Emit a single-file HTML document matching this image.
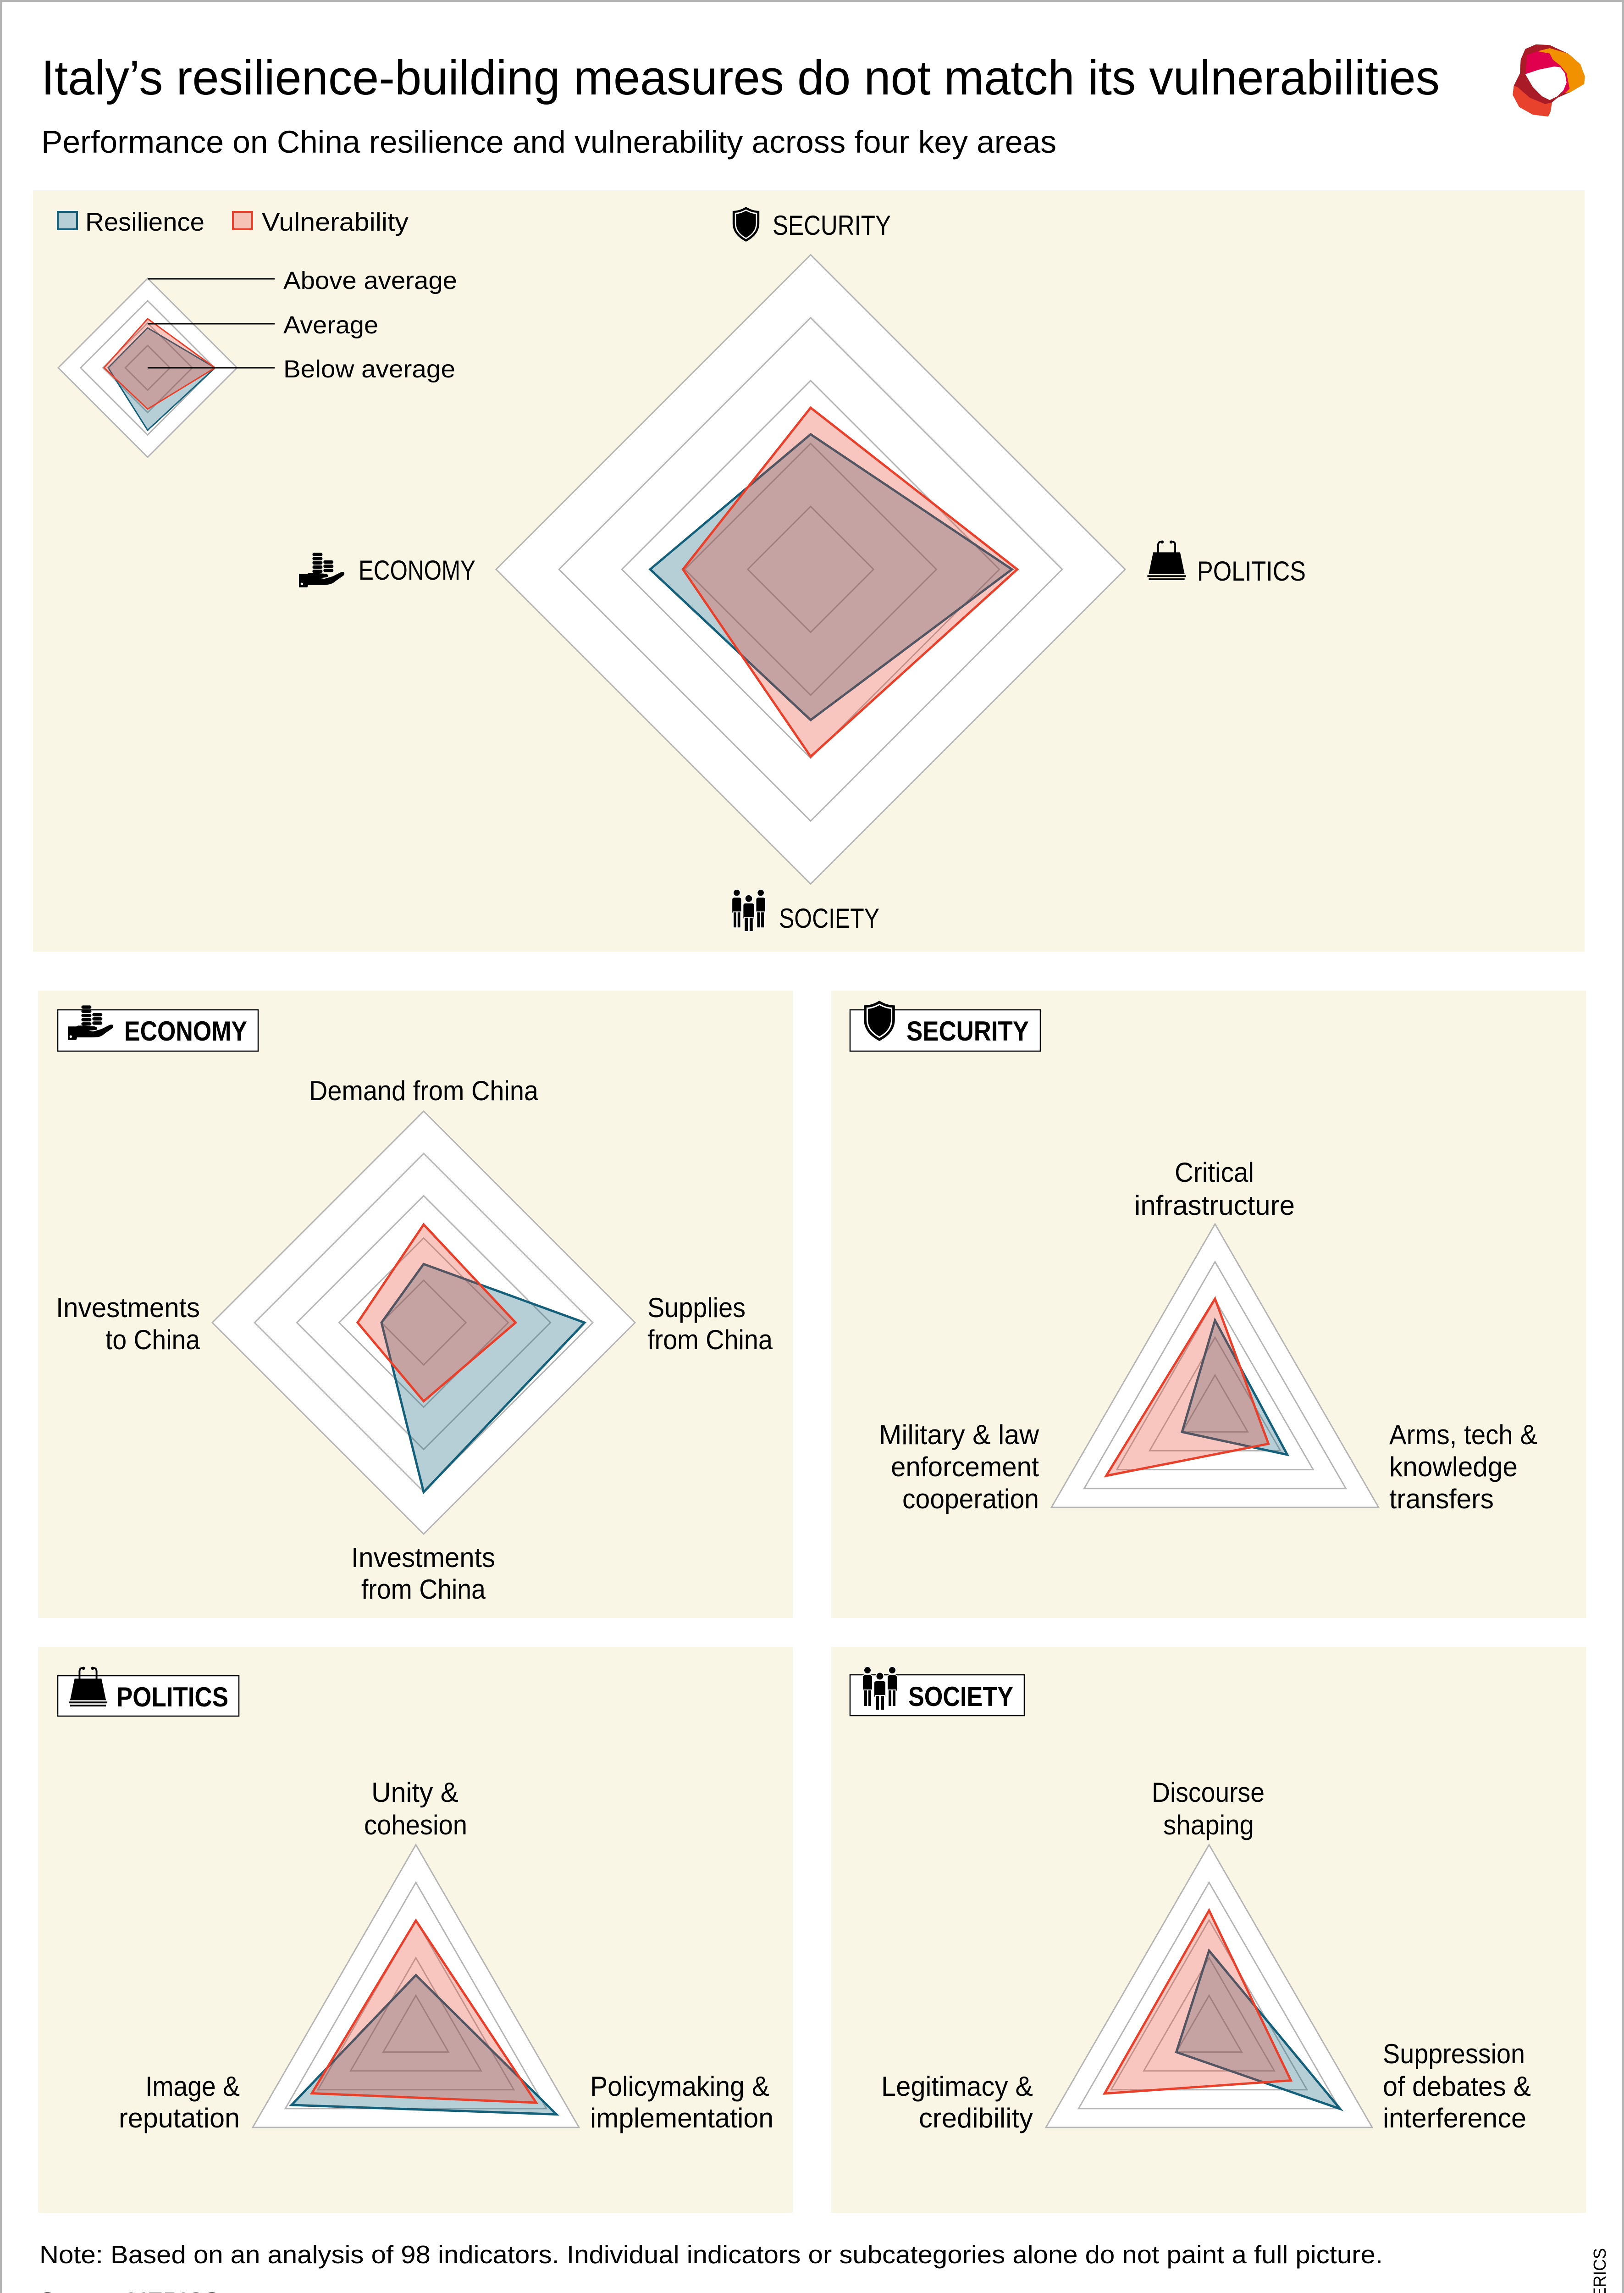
<!DOCTYPE html>
<html>
<head>
<meta charset="utf-8">
<style>
html,body{margin:0;padding:0;background:#fff;width:3542px;height:5123px;overflow:hidden;}
svg{display:block;}
text{font-family:"Liberation Sans",sans-serif;fill:#000;}
</style>
</head>
<body>
<svg width="3542" height="5123" viewBox="0 0 3542 5123" xmlns="http://www.w3.org/2000/svg" overflow="hidden">
<defs>
  <symbol id="shield" viewBox="0 0 70 86">
    <path d="M35 0 C48 8 58 10 68 10 L68 40 C68 62 54 76 35 86 C16 76 2 62 2 40 L2 10 C12 10 22 8 35 0 Z" fill="#000"/>
    <path d="M35 8 C46 14 54 16 61 16 L61 40 C61 58 51 69 35 78 C19 69 9 58 9 40 L9 16 C16 16 24 14 35 8 Z" fill="#000" stroke="#fff" stroke-width="3"/>
  </symbol>
  <symbol id="bag" viewBox="0 0 86 92">
    <path d="M24 32 L24 12 Q24 4 32 4 M62 32 L62 12 Q62 4 54 4" fill="none" stroke="#000" stroke-width="4"/>
    <circle cx="33" cy="5" r="3.5" fill="#000"/>
    <circle cx="53" cy="5" r="3.5" fill="#000"/>
    <polygon points="13,28 73,28 83,76 3,76" fill="#000"/>
    <rect x="0" y="79" width="86" height="4" fill="#000"/>
    <rect x="3" y="86" width="80" height="4" fill="#000"/>
  </symbol>
  <symbol id="econ" viewBox="0 0 110 82">
    <g fill="#000">
      <rect x="32" y="0" width="24" height="8" rx="4"/>
      <rect x="32" y="10" width="24" height="8" rx="4"/>
      <rect x="32" y="20" width="24" height="8" rx="4"/>
      <rect x="32" y="30" width="24" height="8" rx="4"/>
      <rect x="32" y="40" width="24" height="8" rx="4"/>
      <rect x="58" y="18" width="24" height="8" rx="4"/>
      <rect x="58" y="28" width="24" height="8" rx="4"/>
      <rect x="58" y="38" width="24" height="8" rx="4"/>
      <path d="M0 50 L20 50 L24 48 L40 48 L64 50 Q72 52 68 58 L50 60 L60 62 L80 56 L100 46 Q112 44 106 54 L86 68 Q78 76 62 76 L22 76 L20 82 L0 82 Z"/>
    </g>
    <circle cx="7" cy="74" r="3" fill="#fff"/>
  </symbol>
  <symbol id="people" viewBox="0 0 80 96">
    <g fill="#000" stroke="#fff" stroke-width="2">
      <circle cx="13" cy="9" r="8"/>
      <circle cx="67" cy="9" r="8"/>
      <rect x="2" y="19" width="22" height="38" rx="5"/>
      <rect x="56" y="19" width="22" height="38" rx="5"/>
      <rect x="5" y="52" width="8" height="36"/>
      <rect x="14" y="52" width="8" height="36"/>
      <rect x="58" y="52" width="8" height="36"/>
      <rect x="67" y="52" width="8" height="36"/>
      <circle cx="40" cy="22" r="8.5"/>
      <rect x="27" y="32" width="26" height="38" rx="5"/>
      <rect x="30" y="64" width="9" height="32"/>
      <rect x="41" y="64" width="9" height="32"/>
    </g>
  </symbol>
</defs>

<!-- frame -->
<rect x="0" y="0" width="3542" height="5123" fill="#fff"/>
<rect x="2" y="2" width="3538" height="5119" fill="none" stroke="#b3b3b3" stroke-width="5"/>

<!-- title -->
<text x="90" y="206" font-size="107" textLength="3050" lengthAdjust="spacingAndGlyphs">Italy’s resilience-building measures do not match its vulnerabilities</text>
<text x="90" y="333" font-size="69" textLength="2214" lengthAdjust="spacingAndGlyphs">Performance on China resilience and vulnerability across four key areas</text>

<!-- logo -->
<g>
  <polygon points="3350,96.7 3380,98.3 3420,116.7 3446.7,140 3456.7,166.7 3455,183.3 3426.7,200 3396.7,213.3 3385,223.3 3381.7,243.3 3376.7,254 3343.3,250 3313.3,233.3 3299.3,206.7 3301.7,186.7 3315,160 3316.7,130 3326.7,106.7" fill="#a81b27"/>
  <polygon points="3353.3,111.7 3380,105 3420,116.7 3446.7,140 3456.7,166.7 3455,183.3 3426.7,200 3413.3,203.3 3420,190 3416.7,160 3403.3,143.3 3386.7,130 3380,116.7" fill="#f29100"/>
  <polygon points="3330,120 3353.3,111.7 3380,116.7 3386.7,130 3403.3,143.3 3416.7,160 3423.3,193.3 3413.3,203.3 3326.7,161.7" fill="#e0004d"/>
  <polygon points="3299.3,206.7 3313.3,233.3 3343.3,250 3376.7,254 3381.7,243.3 3385,223.3 3370,226.7 3336.7,213.3 3310,190 3301.7,186.7" fill="#e8412c"/>
  <polygon points="3326.7,161.7 3356.7,151.7 3390,145 3403.3,146.7 3413.3,160 3416.7,180 3410,196.7 3396.7,210 3380,218.3 3363.3,210 3343.3,190" fill="#fff"/>
</g>

<!-- panels -->
<rect x="72" y="415" width="3384" height="1660" fill="#f9f6e5"/>
<rect x="83" y="2160" width="1646" height="1368" fill="#f9f6e5"/>
<rect x="1813" y="2160" width="1646" height="1368" fill="#f9f6e5"/>
<rect x="83" y="3591" width="1646" height="1234" fill="#f9f6e5"/>
<rect x="1813" y="3591" width="1646" height="1234" fill="#f9f6e5"/>

<!-- legend -->
<rect x="126" y="462" width="42" height="38" fill="#b6cfd6" stroke="#14607a" stroke-width="4"/>
<text x="186" y="503" font-size="56" textLength="260" lengthAdjust="spacingAndGlyphs">Resilience</text>
<rect x="508" y="462" width="42" height="38" fill="#f6c2b6" stroke="#e8402a" stroke-width="4"/>
<text x="571" y="503" font-size="56" textLength="320" lengthAdjust="spacingAndGlyphs">Vulnerability</text>

<g stroke-linejoin="miter">
  <polygon points="322,607 517,802 322,997 127,802" fill="#fff" stroke="#b5b5b5" stroke-width="3"/>
  <polygon points="322,655.75 468.25,802 322,948.25 175.75,802" fill="none" stroke="#b5b5b5" stroke-width="3"/>
  <polygon points="322,704.5 419.5,802 322,899.5 224.5,802" fill="none" stroke="#b5b5b5" stroke-width="3"/>
  <polygon points="322,753.25 370.75,802 322,850.75 273.25,802" fill="none" stroke="#b5b5b5" stroke-width="3"/>
  <polygon points="322,715 469,802 322,938 236,802" fill="#14607a" fill-opacity="0.31" stroke="#14607a" stroke-width="3"/>
  <polygon points="322,695 469,802 322,892 227,802" fill="#e8402a" fill-opacity="0.3" stroke="#e8402a" stroke-width="3"/>
</g>
<g stroke="#000" stroke-width="3">
  <line x1="322" y1="608" x2="599" y2="608"/>
  <line x1="322" y1="706" x2="599" y2="706"/>
  <line x1="322" y1="802" x2="599" y2="802"/>
</g>
<text x="618" y="630" font-size="54" textLength="379" lengthAdjust="spacingAndGlyphs">Above average</text>
<text x="618" y="727" font-size="54" textLength="207" lengthAdjust="spacingAndGlyphs">Average</text>
<text x="618" y="823" font-size="54" textLength="375" lengthAdjust="spacingAndGlyphs">Below average</text>

<!-- main radar -->
<g stroke-linejoin="miter">
  <polygon points="1768,555.5 2454,1241.5 1768,1927.5 1082,1241.5" fill="#fff" stroke="#b5b5b5" stroke-width="3"/>
  <polygon points="1768,692.7 2316.8,1241.5 1768,1790.3 1219.2,1241.5" fill="none" stroke="#b5b5b5" stroke-width="3"/>
  <polygon points="1768,829.9 2179.6,1241.5 1768,1653.1 1356.4,1241.5" fill="none" stroke="#b5b5b5" stroke-width="3"/>
  <polygon points="1768,967.1 2042.4,1241.5 1768,1515.9 1493.6,1241.5" fill="none" stroke="#b5b5b5" stroke-width="3"/>
  <polygon points="1768,1104.3 1905.2,1241.5 1768,1378.7 1630.8,1241.5" fill="none" stroke="#b5b5b5" stroke-width="3"/>
  <polygon points="1768,947 2207,1241.5 1768,1570 1418,1241.5" fill="#14607a" fill-opacity="0.31" stroke="#14607a" stroke-width="5"/>
  <polygon points="1768,889 2218.7,1241.5 1768,1649.7 1489.5,1241.5" fill="#e8402a" fill-opacity="0.3" stroke="#e8402a" stroke-width="5"/>
</g>
<use href="#shield" x="1594" y="451" width="66" height="76"/>
<text x="1685" y="512" font-size="60" textLength="258" lengthAdjust="spacingAndGlyphs">SECURITY</text>
<use href="#bag" x="2502" y="1177" width="85" height="90"/>
<text x="2611" y="1266" font-size="60" textLength="237" lengthAdjust="spacingAndGlyphs">POLITICS</text>
<use href="#people" x="1594" y="1938" width="78" height="93"/>
<text x="1699" y="2023" font-size="60" textLength="219" lengthAdjust="spacingAndGlyphs">SOCIETY</text>
<use href="#econ" x="652" y="1204" width="101" height="78"/>
<text x="782" y="1264" font-size="60" textLength="255" lengthAdjust="spacingAndGlyphs">ECONOMY</text>

<!-- ECONOMY panel -->
<rect x="126" y="2202" width="437" height="90" fill="#fff" stroke="#000" stroke-width="2.5"/>
<use href="#econ" x="148" y="2191" width="101" height="78"/>
<text x="271" y="2269" font-size="60" font-weight="bold" textLength="268" lengthAdjust="spacingAndGlyphs">ECONOMY</text>
<g stroke-linejoin="miter">
  <polygon points="924,2423 1385,2884 924,3345 463,2884" fill="#fff" stroke="#b5b5b5" stroke-width="3"/>
  <polygon points="924,2515.2 1292.8,2884 924,3252.8 555.2,2884" fill="none" stroke="#b5b5b5" stroke-width="3"/>
  <polygon points="924,2607.4 1200.6,2884 924,3160.6 647.4,2884" fill="none" stroke="#b5b5b5" stroke-width="3"/>
  <polygon points="924,2699.6 1108.4,2884 924,3068.4 739.6,2884" fill="none" stroke="#b5b5b5" stroke-width="3"/>
  <polygon points="924,2791.8 1016.2,2884 924,2976.2 831.8,2884" fill="none" stroke="#b5b5b5" stroke-width="3"/>
  <polygon points="924,2756.3 1275,2884 924,3253.6 832,2884" fill="#14607a" fill-opacity="0.31" stroke="#14607a" stroke-width="5"/>
  <polygon points="924,2670 1124.5,2884 924,3055.5 780,2884" fill="#e8402a" fill-opacity="0.3" stroke="#e8402a" stroke-width="5"/>
</g>
<text x="674" y="2399" font-size="60" textLength="500" lengthAdjust="spacingAndGlyphs">Demand from China</text>
<text x="122" y="2872" font-size="60" textLength="314" lengthAdjust="spacingAndGlyphs">Investments</text>
<text x="230" y="2942" font-size="60" textLength="206" lengthAdjust="spacingAndGlyphs">to China</text>
<text x="1412" y="2872" font-size="60" textLength="214" lengthAdjust="spacingAndGlyphs">Supplies</text>
<text x="1412" y="2942" font-size="60" textLength="273" lengthAdjust="spacingAndGlyphs">from China</text>
<text x="766" y="3417" font-size="60" textLength="314" lengthAdjust="spacingAndGlyphs">Investments</text>
<text x="788" y="3486" font-size="60" textLength="271" lengthAdjust="spacingAndGlyphs">from China</text>

<!-- SECURITY panel -->
<rect x="1854" y="2202" width="415" height="90" fill="#fff" stroke="#000" stroke-width="2.5"/>
<use href="#shield" x="1881" y="2182" width="74" height="88"/>
<text x="1977" y="2269" font-size="60" font-weight="bold" textLength="267" lengthAdjust="spacingAndGlyphs">SECURITY</text>
<g stroke-linejoin="miter">
  <polygon points="2650,2669 3006.8,3287 2293.2,3287" fill="#fff" stroke="#b5b5b5" stroke-width="3"/>
  <polygon points="2650,2751.4 2935.4,3245.8 2364.6,3245.8" fill="none" stroke="#b5b5b5" stroke-width="3"/>
  <polygon points="2650,2833.8 2864.1,3204.6 2435.9,3204.6" fill="none" stroke="#b5b5b5" stroke-width="3"/>
  <polygon points="2650,2916.2 2792.7,3163.4 2507.3,3163.4" fill="none" stroke="#b5b5b5" stroke-width="3"/>
  <polygon points="2650,2998.6 2721.4,3122.2 2578.6,3122.2" fill="none" stroke="#b5b5b5" stroke-width="3"/>
  <polygon points="2650,2879 2807.6,3172 2578.1,3122.5" fill="#14607a" fill-opacity="0.31" stroke="#14607a" stroke-width="5"/>
  <polygon points="2650,2832 2766.5,3148.3 2412.7,3218" fill="#e8402a" fill-opacity="0.3" stroke="#e8402a" stroke-width="5"/>
</g>
<text x="2562" y="2577" font-size="60" textLength="173" lengthAdjust="spacingAndGlyphs">Critical</text>
<text x="2474" y="2649" font-size="60" textLength="350" lengthAdjust="spacingAndGlyphs">infrastructure</text>
<text x="1917" y="3149" font-size="60" textLength="349" lengthAdjust="spacingAndGlyphs">Military &amp; law</text>
<text x="1943" y="3219" font-size="60" textLength="323" lengthAdjust="spacingAndGlyphs">enforcement</text>
<text x="1968" y="3289" font-size="60" textLength="298" lengthAdjust="spacingAndGlyphs">cooperation</text>
<text x="3030" y="3149" font-size="60" textLength="323" lengthAdjust="spacingAndGlyphs">Arms, tech &amp;</text>
<text x="3030" y="3219" font-size="60" textLength="280" lengthAdjust="spacingAndGlyphs">knowledge</text>
<text x="3030" y="3289" font-size="60" textLength="228" lengthAdjust="spacingAndGlyphs">transfers</text>

<!-- POLITICS panel -->
<rect x="126" y="3654" width="395" height="88" fill="#fff" stroke="#000" stroke-width="2.5"/>
<use href="#bag" x="149" y="3633" width="86" height="90"/>
<text x="254" y="3721" font-size="60" font-weight="bold" textLength="244" lengthAdjust="spacingAndGlyphs">POLITICS</text>
<g stroke-linejoin="miter">
  <polygon points="907,4022.5 1262.9,4639 551.1,4639" fill="#fff" stroke="#b5b5b5" stroke-width="3"/>
  <polygon points="907,4104.7 1191.7,4597.9 622.3,4597.9" fill="none" stroke="#b5b5b5" stroke-width="3"/>
  <polygon points="907,4186.9 1120.6,4556.8 693.4,4556.8" fill="none" stroke="#b5b5b5" stroke-width="3"/>
  <polygon points="907,4269.1 1049.4,4515.7 764.6,4515.7" fill="none" stroke="#b5b5b5" stroke-width="3"/>
  <polygon points="907,4351.3 978.2,4474.6 835.8,4474.6" fill="none" stroke="#b5b5b5" stroke-width="3"/>
  <polygon points="907,4307 1213.6,4610.5 635.9,4590" fill="#14607a" fill-opacity="0.31" stroke="#14607a" stroke-width="5"/>
  <polygon points="907,4187.8 1169.4,4585 680.1,4564.5" fill="#e8402a" fill-opacity="0.3" stroke="#e8402a" stroke-width="5"/>
</g>
<text x="810" y="3929" font-size="60" textLength="190" lengthAdjust="spacingAndGlyphs">Unity &amp;</text>
<text x="794" y="4000" font-size="60" textLength="225" lengthAdjust="spacingAndGlyphs">cohesion</text>
<text x="317" y="4570" font-size="60" textLength="206" lengthAdjust="spacingAndGlyphs">Image &amp;</text>
<text x="259" y="4639" font-size="60" textLength="264" lengthAdjust="spacingAndGlyphs">reputation</text>
<text x="1287" y="4570" font-size="60" textLength="391" lengthAdjust="spacingAndGlyphs">Policymaking &amp;</text>
<text x="1287" y="4639" font-size="60" textLength="400" lengthAdjust="spacingAndGlyphs">implementation</text>

<!-- SOCIETY panel -->
<rect x="1854" y="3652" width="380" height="89" fill="#fff" stroke="#000" stroke-width="2.5"/>
<use href="#people" x="1878" y="3633" width="82" height="96"/>
<text x="1981" y="3720" font-size="60" font-weight="bold" textLength="229" lengthAdjust="spacingAndGlyphs">SOCIETY</text>
<g stroke-linejoin="miter">
  <polygon points="2637,4022.5 2992.9,4639 2281.1,4639" fill="#fff" stroke="#b5b5b5" stroke-width="3"/>
  <polygon points="2637,4104.7 2921.7,4597.9 2352.3,4597.9" fill="none" stroke="#b5b5b5" stroke-width="3"/>
  <polygon points="2637,4186.9 2850.6,4556.8 2423.4,4556.8" fill="none" stroke="#b5b5b5" stroke-width="3"/>
  <polygon points="2637,4269.1 2779.4,4515.7 2494.6,4515.7" fill="none" stroke="#b5b5b5" stroke-width="3"/>
  <polygon points="2637,4351.3 2708.2,4474.6 2565.8,4474.6" fill="none" stroke="#b5b5b5" stroke-width="3"/>
  <polygon points="2637,4253.5 2922.8,4598.5 2565.6,4474.75" fill="#14607a" fill-opacity="0.31" stroke="#14607a" stroke-width="5"/>
  <polygon points="2637,4165.7 2815.4,4536.5 2409.2,4565" fill="#e8402a" fill-opacity="0.3" stroke="#e8402a" stroke-width="5"/>
</g>
<text x="2512" y="3929" font-size="60" textLength="246" lengthAdjust="spacingAndGlyphs">Discourse</text>
<text x="2537" y="4000" font-size="60" textLength="198" lengthAdjust="spacingAndGlyphs">shaping</text>
<text x="1922" y="4570" font-size="60" textLength="331" lengthAdjust="spacingAndGlyphs">Legitimacy &amp;</text>
<text x="2004" y="4639" font-size="60" textLength="249" lengthAdjust="spacingAndGlyphs">credibility</text>
<text x="3016" y="4499" font-size="60" textLength="310" lengthAdjust="spacingAndGlyphs">Suppression</text>
<text x="3016" y="4570" font-size="60" textLength="323" lengthAdjust="spacingAndGlyphs">of debates &amp;</text>
<text x="3016" y="4639" font-size="60" textLength="313" lengthAdjust="spacingAndGlyphs">interference</text>

<!-- footer -->
<text x="86" y="4935" font-size="55" textLength="2930" lengthAdjust="spacingAndGlyphs">Note: Based on an analysis of 98 indicators. Individual indicators or subcategories alone do not paint a full picture.</text>
<text x="86" y="5037" font-size="55" textLength="393" lengthAdjust="spacingAndGlyphs">Source: MERICS</text>
<g transform="translate(3502,5078) rotate(-90)">
  <text x="0" y="0" font-size="38" textLength="176" lengthAdjust="spacingAndGlyphs">© MERICS</text>
</g>
</svg>
</body>
</html>
